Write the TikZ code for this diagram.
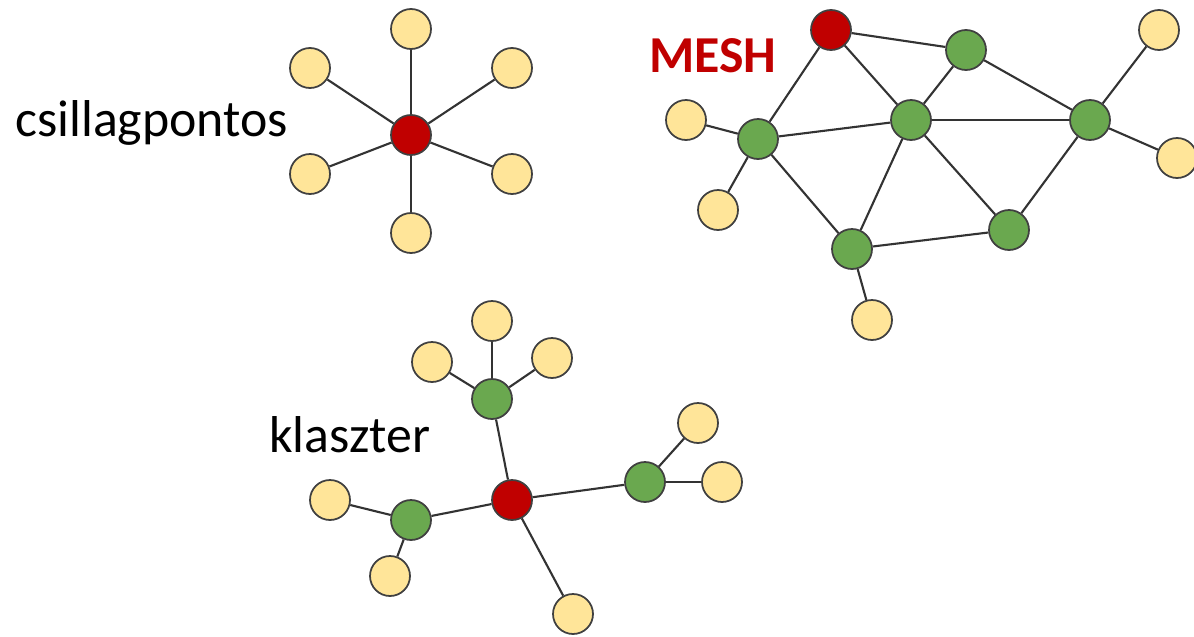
\documentclass[tikz,border=0pt]{standalone}
\usepackage{fontspec}
\setmainfont{Carlito}
\usepackage{xcolor}
\usepackage{tikz}

\definecolor{hubred}{HTML}{C00000}
\definecolor{relaygreen}{HTML}{6AA84F}
\definecolor{leafyellow}{HTML}{FFE599}
\definecolor{rim}{HTML}{404040}

\tikzset{
    hub/.style={draw=rim, circle, fill=hubred, line width=1pt, minimum size=0.8cm, inner sep=0pt},
    relay/.style={hub, fill=relaygreen},
    leaf/.style={hub, fill=leafyellow},
    link/.style={draw=black!80, line width=1.2pt},
    title/.style={anchor=base west, inner sep=0pt, font=\fontsize{29.5}{35}\selectfont}
}

\begin{document}
\begin{tikzpicture}[x=0.02cm, y=-0.02cm]
        \useasboundingbox (0,0) rectangle (1194,636);

        % Star
        \node[title] (startitle) at (15,136) {csillagpontos};
        \node[hub] (star) at (411,135) {};
        \node[leaf] (star1) at (411,29) {};
        \node[leaf] (star2) at (310,68) {};
        \node[leaf] (star3) at (512,68) {};
        \node[leaf] (star4) at (310,174) {};
        \node[leaf] (star5) at (512,174) {};
        \node[leaf] (star6) at (411,233) {};
        \foreach \i in {1,...,6}
            \draw[link] (star) -- (star\i);

        % Mesh
        \node[title, font=\fontsize{29.5}{35}\selectfont\bfseries, text=hubred]
            (meshtitle) at (649,72) {MESH};
        \node[hub] (mesh) at (831,30) {};
        \node[relay] (meshA) at (966,50) {};
        \node[relay] (meshB) at (911,120) {};
        \node[relay] (meshC) at (758,139) {};
        \node[relay] (meshD) at (1090,120) {};
        \node[relay] (meshE) at (1009,230) {};
        \node[relay] (meshF) at (852,249) {};
        \node[leaf] (meshC1) at (686,120) {};
        \node[leaf] (meshC2) at (718,210) {};
        \node[leaf] (meshD1) at (1159,30) {};
        \node[leaf] (meshD2) at (1177,158) {};
        \node[leaf] (meshF1) at (872,320) {};
        \foreach \a/\b in {mesh/meshA, mesh/meshB, mesh/meshC, meshA/meshB, meshA/meshD,
                meshB/meshC, meshB/meshD, meshB/meshE, meshB/meshF, meshC/meshF,
                meshF/meshE, meshD/meshE, meshC/meshC1, meshC/meshC2,
                meshD/meshD1, meshD/meshD2, meshF/meshF1}
            \draw[link] (\a) -- (\b);

        % Cluster
        \node[title] (clustertitle) at (269,452) {klaszter};
        \node[hub] (cluster) at (512,500) {};
        \node[relay] (clusterA) at (492,399) {};
        \node[relay] (clusterB) at (411,520) {};
        \node[relay] (clusterC) at (645,482) {};
        \node[leaf] (clusterA1) at (492,321) {};
        \node[leaf] (clusterA2) at (432,362) {};
        \node[leaf] (clusterA3) at (552,358) {};
        \node[leaf] (clusterB1) at (330,500) {};
        \node[leaf] (clusterB2) at (390,576) {};
        \node[leaf] (clusterC1) at (698,423) {};
        \node[leaf] (clusterC2) at (722,482) {};
        \node[leaf] (cluster1) at (573,614) {};
        \foreach \a/\b in {cluster/clusterA, cluster/clusterB, cluster/clusterC, cluster/cluster1,
                clusterA/clusterA1, clusterA/clusterA2, clusterA/clusterA3,
                clusterB/clusterB1, clusterB/clusterB2, clusterC/clusterC1, clusterC/clusterC2}
            \draw[link] (\a) -- (\b);
    \end{tikzpicture}
\end{document}
